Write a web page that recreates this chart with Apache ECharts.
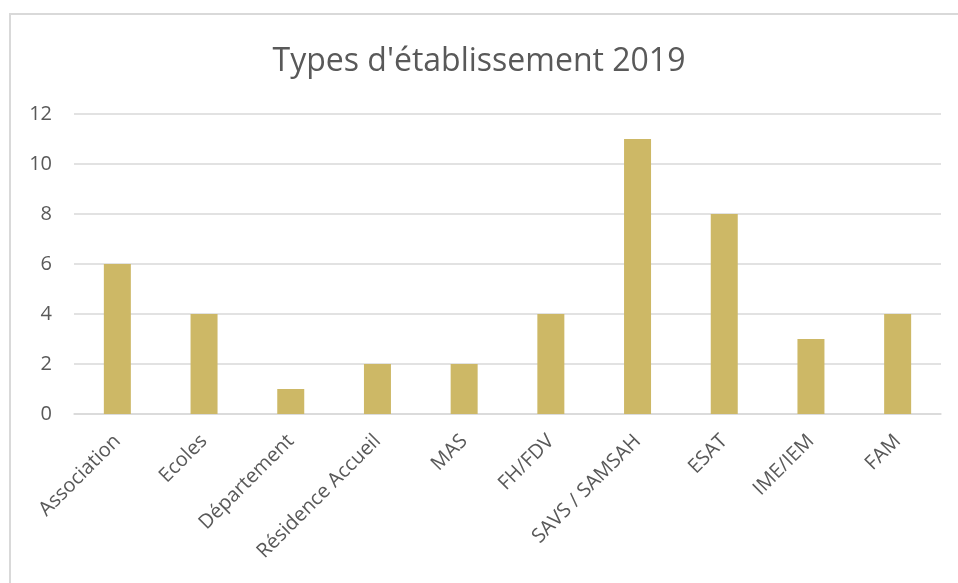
<!DOCTYPE html>
<html>
<head>
<meta charset="utf-8">
<script src="https://cdn.jsdelivr.net/npm/echarts@6/dist/echarts.min.js"></script>
<style>
  html, body { margin: 0; padding: 0; background: #fff; }
  #chart { width: 958px; height: 583px; }
</style>
</head>
<body>
<div id="chart"></div>
<script>
const categories = [
  "Association", "Ecoles", "Département", "Résidence Accueil", "MAS",
  "FH/FDV", "SAVS / SAMSAH", "ESAT", "IME/IEM", "FAM",
];
const counts = [6, 4, 1, 2, 2, 4, 11, 8, 3, 4];
const yTicks = { min: 0, max: 12, interval: 2 };

const font = "'Open Sans', sans-serif";
const chart = echarts.init(document.getElementById("chart"));

chart.setOption({
  animation: false,
  backgroundColor: "#fff",
  graphic: [
    {
      type: "rect",
      shape: { x: 10, y: 14, width: 960, height: 600 },
      style: { fill: "none", stroke: "#d9d9d9", lineWidth: 2 },
      silent: true,
    },
  ],
  title: {
    text: "Types d'établissement 2019",
    left: "center",
    top: 41,
    textStyle: { color: "#595959", fontFamily: font, fontSize: 32, fontWeight: "normal" },
  },
  grid: { left: 74, right: 17, top: 114, bottom: 169, containLabel: false },
  xAxis: {
    type: "category",
    data: categories,
    axisLine: { lineStyle: { color: "#d9d9d9", width: 1.5 } },
    axisTick: { show: false },
    axisLabel: {
      rotate: 45,
      interval: 0,
      margin: 24,
      color: "#595959",
      fontFamily: font,
      fontSize: 20,
    },
  },
  yAxis: {
    type: "value",
    min: yTicks.min,
    max: yTicks.max,
    interval: yTicks.interval,
    axisLine: { show: false },
    axisTick: { show: false },
    splitLine: { lineStyle: { color: "#d9d9d9", width: 1.5 } },
    axisLabel: { color: "#595959", fontFamily: font, fontSize: 20, margin: 22 },
  },
  series: [
    {
      type: "bar",
      data: counts,
      barWidth: 27,
      itemStyle: { color: "#cdb866" },
    },
  ],
});
</script>
</body>
</html>
